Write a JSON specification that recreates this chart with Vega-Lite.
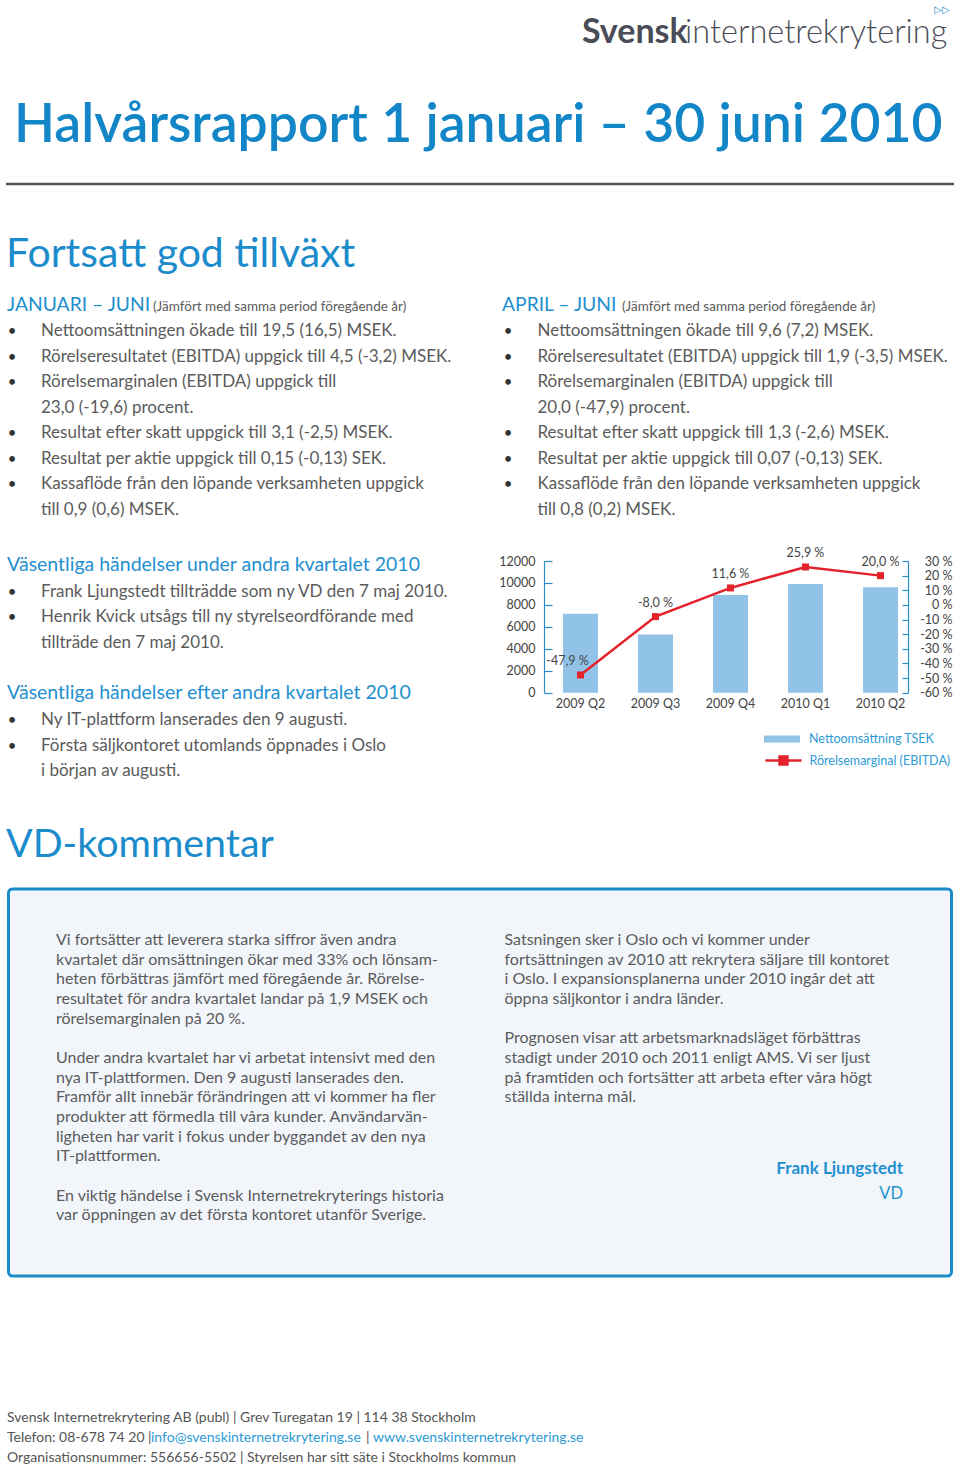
{
  "$schema": "https://vega.github.io/schema/vega-lite/v6.json",
  "background": "white",
  "padding": 0,
  "config": {
    "view": {"stroke": null},
    "font": "Lato",
    "text": {"font": "Lato", "baseline": "alphabetic", "align": "left"},
    "locale": {"number": {"decimal": ",", "thousands": "", "grouping": [3], "currency": ["", ""], "minus": "-", "percent": " %"}}
  },
  "datasets": {
    "logo": [
      {"k": "b", "t": "Svensk"},
      {"k": "l", "t": "internetrekrytering"},
      {"k": "i", "t": "▷▷"}
    ],
    "titel": [{"t": "Halvårsrapport 1 januari – 30 juni 2010"}],
    "linje": [{"r": "linje"}],
    "rubrik": [{"t": "Fortsatt god tillväxt"}],
    "janjun": [
      {"line": 0, "k": "head", "t": "JANUARI – JUNI"},
      {"line": 0, "k": "note", "t": "(Jämfört med samma period föregående år)"},
      {"line": 1, "k": "item", "t": "Nettoomsättningen ökade till 19,5 (16,5) MSEK."},
      {"line": 2, "k": "item", "t": "Rörelseresultatet (EBITDA) uppgick till 4,5 (-3,2) MSEK."},
      {"line": 3, "k": "item", "t": "Rörelsemarginalen (EBITDA) uppgick till"},
      {"line": 4, "k": "cont", "t": "23,0 (-19,6) procent."},
      {"line": 5, "k": "item", "t": "Resultat efter skatt uppgick till 3,1 (-2,5) MSEK."},
      {"line": 6, "k": "item", "t": "Resultat per aktie uppgick till 0,15 (-0,13) SEK."},
      {"line": 7, "k": "item", "t": "Kassaflöde från den löpande verksamheten uppgick"},
      {"line": 8, "k": "cont", "t": "till 0,9 (0,6) MSEK."}
    ],
    "aprjun": [
      {"line": 0, "k": "head", "t": "APRIL – JUNI"},
      {"line": 0, "k": "note", "t": "(Jämfört med samma period föregående år)"},
      {"line": 1, "k": "item", "t": "Nettoomsättningen ökade till 9,6 (7,2) MSEK."},
      {"line": 2, "k": "item", "t": "Rörelseresultatet (EBITDA) uppgick till 1,9 (-3,5) MSEK."},
      {"line": 3, "k": "item", "t": "Rörelsemarginalen (EBITDA) uppgick till"},
      {"line": 4, "k": "cont", "t": "20,0 (-47,9) procent."},
      {"line": 5, "k": "item", "t": "Resultat efter skatt uppgick till 1,3 (-2,6) MSEK."},
      {"line": 6, "k": "item", "t": "Resultat per aktie uppgick till 0,07 (-0,13) SEK."},
      {"line": 7, "k": "item", "t": "Kassaflöde från den löpande verksamheten uppgick"},
      {"line": 8, "k": "cont", "t": "till 0,8 (0,2) MSEK."}
    ],
    "handelser": [
      {"line": 0, "k": "head", "t": "Väsentliga händelser under andra kvartalet 2010"},
      {"line": 1, "k": "item", "t": "Frank Ljungstedt tillträdde som ny VD den 7 maj 2010."},
      {"line": 2, "k": "item", "t": "Henrik Kvick utsågs till ny styrelseordförande med"},
      {"line": 3, "k": "cont", "t": "tillträde den 7 maj 2010."},
      {"line": 5, "k": "head", "t": "Väsentliga händelser efter andra kvartalet 2010"},
      {"line": 6, "k": "item", "t": "Ny IT-plattform lanserades den 9 augusti."},
      {"line": 7, "k": "item", "t": "Första säljkontoret utomlands öppnades i Oslo"},
      {"line": 8, "k": "cont", "t": "i början av augusti."}
    ],
    "kpi": [
      {"kvartal": "2009 Q2", "omsattning": 7200, "marginal": -0.479},
      {"kvartal": "2009 Q3", "omsattning": 5300, "marginal": -0.08},
      {"kvartal": "2009 Q4", "omsattning": 8900, "marginal": 0.116},
      {"kvartal": "2010 Q1", "omsattning": 9900, "marginal": 0.259},
      {"kvartal": "2010 Q2", "omsattning": 9600, "marginal": 0.2}
    ],
    "vdrubrik": [{"t": "VD-kommentar"}],
    "vd": [
      {"line": 0, "k": "L", "t": "Vi fortsätter att leverera starka siffror även andra"},
      {"line": 1, "k": "L", "t": "kvartalet där omsättningen ökar med 33% och lönsam-"},
      {"line": 2, "k": "L", "t": "heten förbättras jämfört med föregående år. Rörelse-"},
      {"line": 3, "k": "L", "t": "resultatet för andra kvartalet landar på 1,9 MSEK och"},
      {"line": 4, "k": "L", "t": "rörelsemarginalen på 20 %."},
      {"line": 6, "k": "L", "t": "Under andra kvartalet har vi arbetat intensivt med den"},
      {"line": 7, "k": "L", "t": "nya IT-plattformen. Den 9 augusti lanserades den."},
      {"line": 8, "k": "L", "t": "Framför allt innebär förändringen att vi kommer ha fler"},
      {"line": 9, "k": "L", "t": "produkter att förmedla till våra kunder. Användarvän-"},
      {"line": 10, "k": "L", "t": "ligheten har varit i fokus under byggandet av den nya"},
      {"line": 11, "k": "L", "t": "IT-plattformen."},
      {"line": 13, "k": "L", "t": "En viktig händelse i Svensk Internetrekryterings historia"},
      {"line": 14, "k": "L", "t": "var öppningen av det första kontoret utanför Sverige."},
      {"line": 0, "k": "R", "t": "Satsningen sker i Oslo och vi kommer under"},
      {"line": 1, "k": "R", "t": "fortsättningen av 2010 att rekrytera säljare till kontoret"},
      {"line": 2, "k": "R", "t": "i Oslo. I expansionsplanerna under 2010 ingår det att"},
      {"line": 3, "k": "R", "t": "öppna säljkontor i andra länder."},
      {"line": 5, "k": "R", "t": "Prognosen visar att arbetsmarknadsläget förbättras"},
      {"line": 6, "k": "R", "t": "stadigt under 2010 och 2011 enligt AMS. Vi ser ljust"},
      {"line": 7, "k": "R", "t": "på framtiden och fortsätter att arbeta efter våra högt"},
      {"line": 8, "k": "R", "t": "ställda interna mål."},
      {"line": 12, "k": "namn", "t": "Frank Ljungstedt"},
      {"line": 13, "k": "befattning", "t": "VD"}
    ],
    "sidfot": [
      {"line": 0, "k": "t", "t": "Svensk Internetrekrytering AB (publ) | Grev Turegatan 19 | 114 38 Stockholm"},
      {"line": 1, "k": "t", "t": "Telefon: 08-678 74 20 |"},
      {"line": 1, "k": "mail", "t": "info@svenskinternetrekrytering.se"},
      {"line": 1, "k": "sep", "t": "|"},
      {"line": 1, "k": "web", "t": "www.svenskinternetrekrytering.se"},
      {"line": 2, "k": "t", "t": "Organisationsnummer: 556656-5502 | Styrelsen har sitt säte i Stockholms kommun"}
    ]
  },
  "spacing": 0,
  "bounds": "flush",
  "center": true,
  "vconcat": [
    {
      "width": 960, "height": 66,
      "data": {"name": "logo"},
      "layer": [
        {"transform": [{"filter": "datum.k === 'b'"}], "mark": {"type": "text", "dx": 102, "dy": 10.3, "fontSize": 34, "fontWeight": "bold", "color": "#4a4d57"}, "encoding": {"text": {"field": "t"}}},
        {"transform": [{"filter": "datum.k === 'l'"}], "mark": {"type": "text", "dx": 205, "dy": 10.3, "fontSize": 32.5, "fontWeight": 300, "color": "#4a4d57"}, "encoding": {"text": {"field": "t"}}},
        {"transform": [{"filter": "datum.k === 'i'"}], "mark": {"type": "text", "align": "center", "baseline": "middle", "font": "DejaVu Sans", "dx": 462, "dy": -23, "fontSize": 10, "color": "#1c8bc9"}, "encoding": {"text": {"field": "t"}}}
      ]
    },
    {
      "width": 960, "height": 115.3,
      "data": {"name": "titel"},
      "mark": {"type": "text", "dx": -466, "dy": 18, "fontSize": 53.5, "fontWeight": 600, "color": "#1386c8"},
      "encoding": {"text": {"field": "t"}}
    },
    {
      "width": 948, "height": 4,
      "data": {"name": "linje"},
      "mark": {"type": "rule", "color": "#555555", "strokeWidth": 2.5},
      "encoding": {"y": {"field": "r", "type": "nominal", "axis": null}}
    },
    {
      "width": 960, "height": 111.2,
      "data": {"name": "rubrik"},
      "mark": {"type": "text", "dx": -474, "dy": 25.8, "fontSize": 41, "fontWeight": 400, "color": "#1b8bcb"},
      "encoding": {"text": {"field": "t"}}
    },
    {
      "width": 960, "height": 262.5,
      "encoding": {"y": {"field": "line", "type": "quantitative", "axis": null, "scale": {"domain": [-0.5, 9.794], "reverse": true, "nice": false, "zero": false}}},
      "layer": [
        {
          "data": {"name": "janjun"},
          "layer": [
            {"transform": [{"filter": "datum.k === 'head'"}], "mark": {"type": "text", "dx": -473, "fontSize": 19.3, "color": "#1f8fcf"}, "encoding": {"text": {"field": "t"}}},
            {"transform": [{"filter": "datum.k === 'note'"}], "mark": {"type": "text", "dx": -327, "fontSize": 13.5, "color": "#5b5b5b"}, "encoding": {"text": {"field": "t"}}},
            {"transform": [{"filter": "datum.k === 'item' || datum.k === 'cont'"}], "mark": {"type": "text", "dx": -439, "fontSize": 17, "color": "#5b5b5b"}, "encoding": {"text": {"field": "t"}}},
            {"transform": [{"filter": "datum.k === 'item'"}], "mark": {"type": "text", "text": "•", "align": "center", "dx": -468, "fontSize": 15, "color": "#333333"}}
          ]
        },
        {
          "data": {"name": "aprjun"},
          "layer": [
            {"transform": [{"filter": "datum.k === 'head'"}], "mark": {"type": "text", "dx": 22, "fontSize": 19.3, "color": "#1f8fcf"}, "encoding": {"text": {"field": "t"}}},
            {"transform": [{"filter": "datum.k === 'note'"}], "mark": {"type": "text", "dx": 142, "fontSize": 13.5, "color": "#5b5b5b"}, "encoding": {"text": {"field": "t"}}},
            {"transform": [{"filter": "datum.k === 'item' || datum.k === 'cont'"}], "mark": {"type": "text", "dx": 57.5, "fontSize": 17, "color": "#5b5b5b"}, "encoding": {"text": {"field": "t"}}},
            {"transform": [{"filter": "datum.k === 'item'"}], "mark": {"type": "text", "text": "•", "align": "center", "dx": 28, "fontSize": 15, "color": "#333333"}}
          ]
        }
      ]
    },
    {
      "width": 960, "height": 131.7,
      "layer": [
        {
          "data": {"name": "kpi"},
          "mark": {"type": "bar"},
          "encoding": {
            "x": {"field": "kvartal", "type": "nominal", "sort": null,
              "scale": {"range": [544, 908], "paddingInner": 0.533, "paddingOuter": 0.193, "align": 0.655},
              "axis": {"title": null, "domain": false, "ticks": false, "labelAngle": 0, "labelPadding": 5, "labelFontSize": 12.5, "labelColor": "#444444", "labelFont": "Lato"}},
            "y": {"field": "omsattning", "type": "quantitative",
              "scale": {"domain": [0, 12000], "nice": false},
              "axis": {"orient": "left", "offset": -544, "title": null, "values": [0, 2000, 4000, 6000, 8000, 10000, 12000], "format": "d", "grid": false, "domainColor": "#2a8fc8", "domainWidth": 1.2, "tickColor": "#2a8fc8", "tickWidth": 1.2, "tickSize": -8, "labelPadding": 17, "labelFontSize": 12.5, "labelColor": "#444444", "labelFont": "Lato", "labelOverlap": false}},
            "fill": {"datum": "Nettoomsättning TSEK", "type": "nominal", "scale": {"range": ["#91c3e9"]},
              "legend": {"orient": "none", "legendX": 764, "legendY": 721, "title": null, "padding": 0, "symbolType": "M-1,-0.2H1V0.2H-1Z", "symbolSize": 1296, "symbolStrokeWidth": 0, "labelOffset": 9, "labelFontSize": 12.5, "labelColor": "#2e9bd6", "labelFont": "Lato"}}
          }
        },
        {
          "data": {"name": "kpi"},
          "encoding": {
            "x": {"field": "kvartal", "type": "nominal", "sort": null},
            "y": {"field": "marginal", "type": "quantitative",
              "scale": {"domain": [-0.6, 0.3], "nice": false, "zero": false},
              "axis": {"orient": "right", "offset": -52, "title": null, "values": [-0.6, -0.5, -0.4, -0.3, -0.2, -0.1, 0, 0.1, 0.2, 0.3], "format": ".0%", "grid": false, "domainColor": "#2a8fc8", "domainWidth": 1.2, "tickColor": "#2a8fc8", "tickWidth": 1.2, "tickSize": -6, "labelPadding": 50, "labelAlign": "right", "labelFontSize": 12.5, "labelColor": "#444444", "labelFont": "Lato", "labelOverlap": false}}
          },
          "layer": [
            {
              "mark": {"type": "line", "strokeWidth": 2.5},
              "encoding": {
                "stroke": {"datum": "Rörelsemarginal (EBITDA)", "type": "nominal", "scale": {"range": ["#e3222c"]},
                  "legend": {"orient": "none", "legendX": 764, "legendY": 741, "title": null, "padding": 0, "symbolType": "M-1,0H1M-0.22,-0.22H0.22V0.22H-0.22Z", "symbolSize": 1296, "symbolStrokeWidth": 2.5, "symbolFillColor": "#e3222c", "labelOffset": 6.5, "labelFontSize": 12.5, "labelColor": "#2e9bd6", "labelFont": "Lato"}}
              }
            },
            {"mark": {"type": "point", "shape": "square", "filled": true, "size": 49, "color": "#e3222c", "opacity": 1}},
            {
              "transform": [{"filter": "datum.kvartal !== '2009 Q2'"}],
              "mark": {"type": "text", "align": "center", "baseline": "middle", "dy": -14, "fontSize": 12.5, "color": "#444444"},
              "encoding": {"text": {"field": "marginal", "type": "quantitative", "format": ".1%"}}
            },
            {
              "transform": [{"filter": "datum.kvartal === '2009 Q2'"}],
              "mark": {"type": "text", "align": "center", "baseline": "middle", "dx": -13, "dy": -14, "fontSize": 12.5, "color": "#444444"},
              "encoding": {"text": {"field": "marginal", "type": "quantitative", "format": ".1%"}}
            }
          ]
        },
        {
          "data": {"name": "handelser"},
          "encoding": {"y": {"field": "line", "type": "quantitative", "axis": null, "scale": {"domain": [-0.402, 4.742], "reverse": true, "nice": false, "zero": false}}},
          "layer": [
            {"transform": [{"filter": "datum.k === 'head'"}], "mark": {"type": "text", "dx": -473, "fontSize": 19.5, "color": "#1f8fcf"}, "encoding": {"text": {"field": "t"}}},
            {"transform": [{"filter": "datum.k === 'item' || datum.k === 'cont'"}], "mark": {"type": "text", "dx": -439, "fontSize": 17, "color": "#5b5b5b"}, "encoding": {"text": {"field": "t"}}},
            {"transform": [{"filter": "datum.k === 'item'"}], "mark": {"type": "text", "text": "•", "align": "center", "dx": -468, "fontSize": 15, "color": "#333333"}}
          ]
        }
      ],
      "resolve": {"scale": {"y": "independent"}}
    },
    {
      "width": 960, "height": 195.8,
      "data": {"name": "vdrubrik"},
      "mark": {"type": "text", "dx": -474, "dy": 66.4, "fontSize": 39.4, "fontWeight": 400, "color": "#1b8bcb"},
      "encoding": {"text": {"field": "t"}}
    },
    {
      "width": 943, "height": 387,
      "view": {"fill": "#f2f6fb", "stroke": "#1c8bc9", "strokeWidth": 3, "cornerRadius": 4},
      "data": {"name": "vd"},
      "encoding": {"y": {"field": "line", "type": "quantitative", "axis": null, "scale": {"domain": [-2.86, 16.835], "reverse": true, "nice": false, "zero": false}}},
      "layer": [
        {"transform": [{"filter": "datum.k === 'L'"}], "mark": {"type": "text", "dx": -424, "fontSize": 16, "color": "#5b5b5b"}, "encoding": {"text": {"field": "t"}}},
        {"transform": [{"filter": "datum.k === 'R'"}], "mark": {"type": "text", "dx": 24.5, "fontSize": 16, "color": "#5b5b5b"}, "encoding": {"text": {"field": "t"}}},
        {"transform": [{"filter": "datum.k === 'namn'"}], "mark": {"type": "text", "align": "right", "dx": 423, "dy": -6.8, "fontSize": 17, "fontWeight": "bold", "color": "#1f8fcf"}, "encoding": {"text": {"field": "t"}}},
        {"transform": [{"filter": "datum.k === 'befattning'"}], "mark": {"type": "text", "align": "right", "dx": 423, "dy": -1.5, "fontSize": 16.5, "fontWeight": 400, "color": "#1f8fcf"}, "encoding": {"text": {"field": "t"}}}
      ]
    },
    {
      "width": 960, "height": 191.5,
      "data": {"name": "sidfot"},
      "encoding": {"y": {"field": "line", "type": "quantitative", "axis": null, "scale": {"domain": [-7.275, 2.3], "reverse": true, "nice": false, "zero": false}}},
      "layer": [
        {"transform": [{"filter": "datum.k === 't'"}], "mark": {"type": "text", "dx": -473, "fontSize": 14, "color": "#555555"}, "encoding": {"text": {"field": "t"}}},
        {"transform": [{"filter": "datum.k === 'sep'"}], "mark": {"type": "text", "dx": -114, "fontSize": 14, "color": "#555555"}, "encoding": {"text": {"field": "t"}}},
        {"transform": [{"filter": "datum.k === 'mail'"}], "mark": {"type": "text", "dx": -329, "fontSize": 14, "color": "#2b9ad4"}, "encoding": {"text": {"field": "t"}}},
        {"transform": [{"filter": "datum.k === 'web'"}], "mark": {"type": "text", "dx": -107, "fontSize": 14, "color": "#2b9ad4"}, "encoding": {"text": {"field": "t"}}}
      ]
    }
  ]
}
